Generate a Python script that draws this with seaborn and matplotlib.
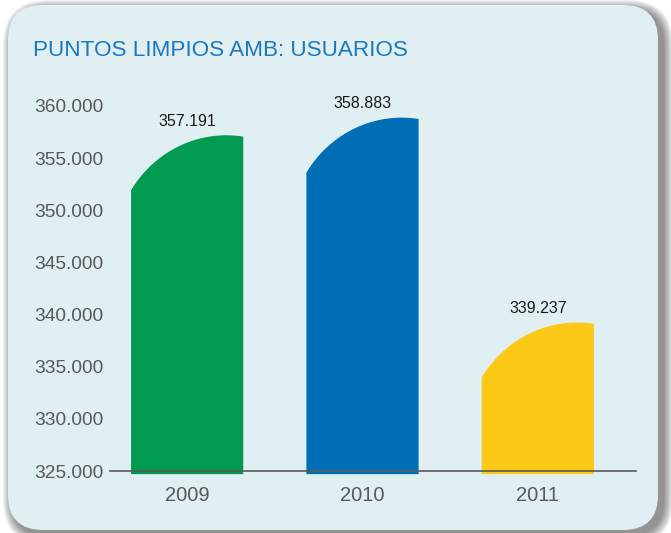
import numpy as np
import matplotlib
matplotlib.use("Agg")
import matplotlib.pyplot as plt
from matplotlib.patches import FancyBboxPatch, Polygon
import seaborn as sns

# ======================================================
# DATA
# ======================================================
YEARS = ["2009", "2010", "2011"]
USERS = [357191, 358883, 339237]
LABELS = ["357.191", "358.883", "339.237"]
COLORS = ["#009A50", "#006FB6", "#FCC917"]
Y_TICKS = [325000, 330000, 335000, 340000, 345000, 350000, 355000, 360000]
Y_TICK_LABELS = ["325.000", "330.000", "335.000", "340.000",
                 "345.000", "350.000", "355.000", "360.000"]

W, H, DPI = 671, 533, 100

sns.set_style("white")
plt.rcParams["font.family"] = ["Liberation Sans", "DejaVu Sans"]

fig = plt.figure(figsize=(W / DPI, H / DPI), dpi=DPI, facecolor="white")

# --- shadow + rounded panel (pixel coords) ---
for i in range(10, 0, -1):
    fig.patches.append(FancyBboxPatch(
        (8 + 5 - i, 3 - 5 - i), 650 + 2 * i, 525 + 2 * i,
        boxstyle=f"round,pad=0,rounding_size={35 + i}",
        transform=None, facecolor="black", edgecolor="none",
        alpha=0.05, zorder=-2))
fig.patches.append(FancyBboxPatch(
    (8, 3), 650, 525, boxstyle="round,pad=0,rounding_size=35",
    transform=None, facecolor="#E0EFF2", edgecolor="none", zorder=-1))

# --- axes ---
ax = fig.add_axes([110 / W, (H - 471) / H, 526 / W, 365 / H])
ax.set_zorder(5)
ax.patch.set_visible(False)

sns.barplot(x=YEARS, y=USERS, hue=YEARS, palette=COLORS, legend=False,
            width=0.64, saturation=1, ax=ax)

ax.set_ylim(325000, 360000)
ax.set_xlim(-0.44, 2.56)

# replace rectangles with curved-top bars
D = 11150
uc, a = 0.85, 1.0
bottom = 325000 - 300
for patch in list(ax.patches):
    x0, w, h = patch.get_x(), patch.get_width(), patch.get_height()
    color = patch.get_facecolor()
    patch.remove()
    u = np.linspace(0, 1, 80)
    top = h - D + D * np.sqrt(1 - ((u - uc) / a) ** 2)
    pts = [(x0, bottom)] + list(zip(x0 + u * w, top)) + [(x0 + w, bottom)]
    ax.add_patch(Polygon(pts, closed=True, facecolor=color, edgecolor="none",
                         clip_on=False, zorder=2))

for i, (v, lab) in enumerate(zip(USERS, LABELS)):
    ax.annotate(lab, (i, v), xytext=(0, 14), textcoords="offset pixels",
                ha="center", va="center", fontsize=11.5, color="#1a1a1a",
                family=["Liberation Sans Narrow", "Liberation Sans"],
                annotation_clip=False)

for s in ["top", "right", "left"]:
    ax.spines[s].set_visible(False)
ax.spines["bottom"].set_color("#5a5a5a")
ax.spines["bottom"].set_linewidth(1.2)
ax.spines["bottom"].set_zorder(3)

ax.set_yticks(Y_TICKS)
ax.set_yticklabels(Y_TICK_LABELS)
ax.tick_params(axis="y", length=0, pad=5, labelsize=13.8, labelcolor="#58595B")
ax.tick_params(axis="x", length=0, pad=11, labelsize=14.5, labelcolor="#58595B")
ax.set_xlabel("")
ax.set_ylabel("")

fig.text(33 / W, 1 - 50 / H, "PUNTOS LIMPIOS AMB: USUARIOS",
         ha="left", va="center", fontsize=16.2, color="#1B78BE")

fig.savefig("out.png", dpi=DPI, facecolor="white")
